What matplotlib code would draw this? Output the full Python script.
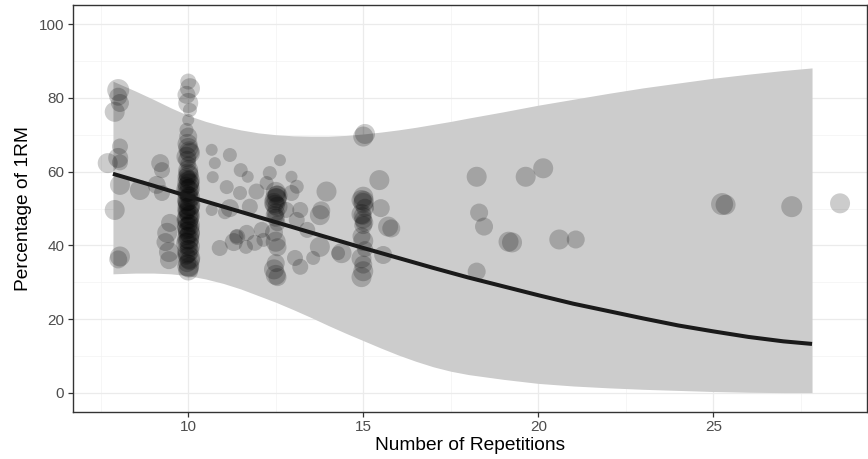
import matplotlib
matplotlib.use("Agg")
import matplotlib.pyplot as plt
import numpy as np

plt.rcParams['font.family'] = ['Liberation Sans', 'DejaVu Sans']

# ---- data ----
curve_x = [7.85, 9, 10, 11, 12, 13, 14, 15, 16, 17, 18, 19, 20, 21, 22, 23, 24, 25, 26, 27, 27.82]
curve_y = [59.4, 56.2, 53.3, 50.5, 47.7, 44.9, 42.1, 39.3, 36.6, 33.9, 31.3, 28.9, 26.5, 24.2, 22.2, 20.2, 18.3, 16.7, 15.2, 14.0, 13.3]

ribbon_x = [7.85, 8.5, 9, 9.5, 10, 10.5, 11, 11.5, 12, 12.5, 13, 13.5, 14, 14.5, 15, 15.5, 16,
            16.5, 17, 17.5, 18, 19, 20, 21, 22, 23, 24, 25, 26, 27, 27.82]
ribbon_hi = [84.5, 81.8, 79.6, 77.3, 75.2, 73.6, 72.3, 71.3, 70.5, 70.0, 69.7, 69.6, 69.6, 69.8, 70.2, 70.7, 71.3,
             72.0, 72.8, 73.6, 74.5, 76.2, 78.0, 79.6, 81.2, 82.7, 84.0, 85.3, 86.4, 87.4, 88.1]
ribbon_lo = [32.3, 32.5, 32.5, 32.3, 31.8, 30.9, 29.7, 28.2, 26.4, 24.6, 22.6, 20.5, 18.3, 16.2, 14.2, 12.2, 10.3,
             8.6, 7.1, 5.9, 5.0, 3.7, 2.6, 1.9, 1.4, 1.0, 0.7, 0.4, 0.2, 0.1, 0.1]

pt_x = [
    # ~8 reps
    7.70, 8.00, 8.00, 8.05, 7.90, 8.05, 8.00, 8.05, 8.05, 7.90, 8.05, 8.00,
    8.62, 9.20, 9.25, 9.10, 9.25, 9.48, 9.40, 9.35, 9.45, 9.45,
    # 10 reps (upper)
    10.00, 10.05, 9.95, 10.00, 10.05, 10.00, 9.95, 10.00, 10.00, 10.05, 9.95, 10.00, 10.00,
    # 10 reps (dense)
    10.00, 9.95, 10.05, 10.00, 9.95, 10.05, 10.00, 9.95, 10.05, 10.00, 9.95, 10.05, 10.00, 9.95,
    10.05, 10.00, 9.95, 10.05, 10.00, 9.95, 10.05, 10.00, 9.95, 10.05, 10.00, 9.95, 10.05, 10.00, 10.00,
    10.02, 9.98, 10.03, 9.97, 10.02, 9.98, 10.03, 9.97, 10.02, 9.98, 10.03, 9.97,
    10.02, 9.98, 10.03, 9.97, 10.02, 9.98, 10.03, 9.97, 10.02, 9.98, 10.03, 9.97,
    # 10.6 - 11.5
    10.67, 11.19, 10.76, 10.70, 11.10, 10.67, 11.05, 11.40, 10.90, 11.30,
    # 11.5 - 14
    12.62, 11.50, 11.70, 12.33, 12.95, 13.10, 11.48, 11.95, 12.24, 12.95, 13.95, 13.20, 13.10,
    13.76, 13.80, 13.40, 13.76, 14.28, 13.05, 13.57, 13.20, 11.38, 11.67, 11.90, 11.65, 12.10,
    12.15, 11.19, 11.76, 12.80,
    # 12.5 reps
    12.50, 12.55, 12.50, 12.45, 12.55, 12.50, 12.50, 12.55, 12.45, 12.50, 12.55, 12.50, 12.45,
    12.50, 12.55, 12.52, 12.48, 12.53, 12.47,
    # 15 reps
    15.05, 15.00, 15.00, 14.95, 15.00, 15.05, 14.95, 15.00, 15.00, 14.95, 15.00, 15.05, 14.95,
    15.00, 15.00, 14.95, 15.46, 15.50, 15.71, 15.80, 15.57, 14.38, 15.02, 14.98, 15.03,
    # 18 - 28
    18.24, 19.64, 20.14, 18.31, 18.45, 19.15, 19.25, 20.60, 21.07, 18.24, 25.25, 25.35, 27.24, 28.62,
]
pt_y = [
    62.3, 82.1, 80.3, 78.6, 76.2, 66.8, 63.7, 62.5, 56.4, 49.6, 37.0, 36.2,
    55.0, 62.3, 60.4, 56.4, 54.2, 46.1, 43.4, 40.9, 38.2, 36.0,
    84.4, 82.6, 80.8, 78.6, 76.7, 74.0, 71.3, 69.5, 66.4, 65.0, 64.0, 62.0, 60.4,
    59.5, 58.5, 57.6, 57.0, 56.2, 55.5, 54.8, 54.0, 53.1, 52.4, 51.5, 50.6, 50.0, 49.1,
    48.2, 47.5, 46.6, 45.5, 44.8, 44.0, 43.1, 42.0, 41.0, 39.8, 38.5, 37.2, 36.0, 34.5, 33.2,
    59.0, 58.0, 56.8, 55.0, 53.6, 52.0, 51.0, 49.6, 48.6, 47.0, 46.0, 45.0,
    43.6, 42.5, 41.5, 40.5, 39.0, 37.8, 36.6, 35.2, 34.0, 67.5, 65.5, 63.2,
    65.9, 64.5, 62.3, 58.5, 55.8, 49.6, 49.0, 42.3, 39.3, 40.9,
    63.1, 60.4, 58.6, 59.6, 58.6, 55.9, 54.2, 54.6, 56.9, 54.2, 54.6, 49.6, 46.9,
    48.2, 49.5, 44.2, 39.6, 37.9, 36.6, 36.6, 34.2, 42.4, 43.4, 40.7, 39.6, 44.2,
    41.5, 50.1, 50.5, 49.6,
    54.5, 53.5, 52.5, 51.5, 50.5, 49.0, 47.5, 46.0, 43.5, 41.0, 39.5, 35.2, 33.5,
    32.0, 31.4, 52.8, 51.0, 53.8, 48.2,
    70.2, 69.5, 53.2, 52.3, 51.5, 50.2, 48.5, 47.0, 45.5, 42.5, 41.2, 39.0, 36.5,
    34.8, 33.0, 31.4, 57.7, 50.1, 45.1, 44.6, 37.4, 37.9, 52.0, 48.0, 46.2,
    58.6, 58.6, 60.9, 48.9, 45.1, 41.0, 40.8, 41.6, 41.6, 32.9, 51.2, 51.0, 50.5, 51.4,
]
pt_d = [
    20, 22, 18, 18, 20, 16, 20, 16, 20, 20, 20, 18,
    20, 18, 16, 18, 16, 18, 20, 18, 20, 18,
    16, 20, 18, 20, 14, 12, 14, 18, 20, 20, 20, 16, 20,
    20, 18, 20, 22, 18, 20, 22, 18, 20, 22, 18, 20, 22, 18,
    20, 22, 18, 20, 22, 18, 20, 22, 18, 20, 22, 18, 20, 22, 20,
    20, 18, 20, 22, 18, 20, 22, 18, 20, 22, 18, 20,
    22, 18, 20, 22, 18, 20, 22, 18, 20, 20, 20, 18,
    12, 14, 12, 12, 14, 12, 14, 16, 16, 18,
    12, 14, 12, 14, 12, 14, 14, 16, 14, 16, 20, 16, 16,
    20, 18, 16, 20, 14, 16, 14, 16, 14, 16, 16, 14, 16,
    14, 18, 16, 16,
    20, 20, 22, 20, 20, 18, 18, 16, 18, 20, 18, 18, 20,
    20, 18, 20, 20, 18, 18,
    20, 20, 20, 20, 20, 18, 20, 18, 18, 18, 20, 16, 20,
    18, 20, 20, 20, 18, 20, 18, 18, 20, 20, 18, 18,
    20, 20, 20, 18, 18, 20, 20, 20, 18, 18, 22, 20, 21, 20,
]

x_ticks = [10, 15, 20, 25]
y_ticks = [0, 20, 40, 60, 80, 100]
x_label = "Number of Repetitions"
y_label = "Percentage of 1RM"

# ---- figure ----
W, H, DPI = 868, 459, 100
fig = plt.figure(figsize=(W / DPI, H / DPI), dpi=DPI)
ax = fig.add_axes([72.7 / W, 1 - 412 / H, (867 - 72.7) / W, (412 - 5) / H])

ax.set_xlim(6.70, 29.39)
ax.set_ylim(-5.15, 105.15)

# grid (theme_bw)
ax.set_xticks(x_ticks)
ax.set_yticks(y_ticks)
ax.set_xticks([7.5, 12.5, 17.5, 22.5, 27.5], minor=True)
ax.set_yticks([10, 30, 50, 70, 90], minor=True)
ax.grid(True, which='major', color='#EBEBEB', linewidth=0.9, zorder=0)
ax.grid(True, which='minor', color='#F3F3F3', linewidth=0.5, zorder=0)
ax.set_axisbelow(True)

ax.fill_between(ribbon_x, ribbon_lo, ribbon_hi, color='#CCCCCC', linewidth=0, zorder=1)

sizes = [(d * 0.72) ** 2 for d in pt_d]
ax.scatter(pt_x, pt_y, s=sizes, color='black', alpha=0.2, linewidths=0, zorder=2)

ax.plot(curve_x, curve_y, color='#1A1A1A', linewidth=2.9, solid_capstyle='butt', zorder=3)

for s in ax.spines.values():
    s.set_color('#333333')
    s.set_linewidth(1.0)

ax.tick_params(axis='both', which='major', direction='out', length=3.5, width=0.9,
               color='#333333', labelcolor='#4D4D4D', labelsize=11, pad=2.5)
ax.tick_params(axis='both', which='minor', length=0)

ax.set_xlabel(x_label, fontsize=13.8, color='black', labelpad=2)
ax.set_ylabel(y_label, fontsize=13.8, color='black', labelpad=5)

fig.savefig("out.png", dpi=DPI)
